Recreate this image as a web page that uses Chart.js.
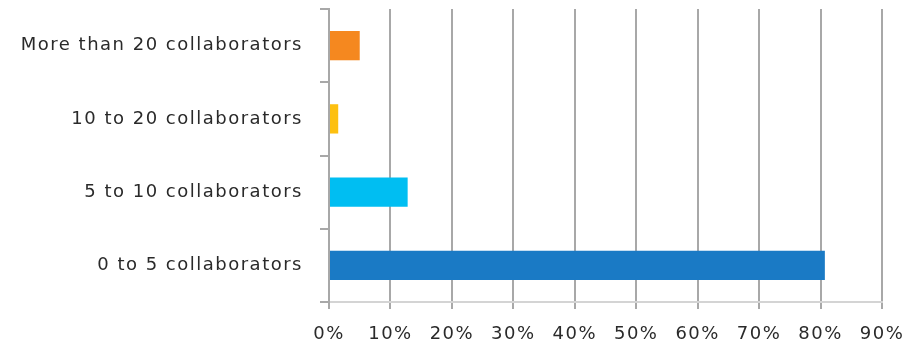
<!DOCTYPE html>
<html>
<head>
<meta charset="utf-8">
<script src="https://cdn.jsdelivr.net/npm/chart.js@4"></script>
<style>
  html, body { margin: 0; padding: 0; background: #fff; }
  #wrap { width: 903px; height: 347px; position: relative; }
</style>
</head>
<body>
<div id="wrap"><canvas id="teamChart"></canvas></div>
<script>
// team size breakdown, top row first
const categories = ['More than 20 collaborators', '10 to 20 collaborators', '5 to 10 collaborators', '0 to 5 collaborators'];
const shares = [5, 1.5, 12.8, 80.7];
const barColors = ['#f5881f', '#fdc010', '#00bef2', '#1a7ac5'];
const xTicks = [0, 10, 20, 30, 40, 50, 60, 70, 80, 90];

const textFont = { family: '"DejaVu Sans", sans-serif', size: 18 };
const gridGray = '#a8a8a8';

// spread the letters a bit, the original font is wide
const spacing = {
    id: 'spacing',
    beforeLayout(chart) { chart.ctx.letterSpacing = '1.5px'; },
    beforeDraw(chart) { chart.ctx.letterSpacing = '1.5px'; }
};

new Chart(document.getElementById('teamChart'), {
    type: 'bar',
    data: {
        labels: categories,
        datasets: [{
            data: shares,
            backgroundColor: barColors,
            borderWidth: 0,
            categoryPercentage: 1,
            barPercentage: 0.4
        }]
    },
    options: {
        indexAxis: 'y',
        responsive: true,
        maintainAspectRatio: false,
        animation: false,
        layout: { padding: { top: 9, right: 21, left: 0, bottom: 0 } },
        plugins: { legend: { display: false }, tooltip: { enabled: false } },
        scales: {
            x: {
                min: 0,
                max: 90,
                afterFit(scale) {
                    scale.height = 45;
                    scale.paddingLeft = 0;
                    scale.paddingRight = 0;
                },
                afterBuildTicks(scale) { scale.ticks = xTicks.map(v => ({ value: v })); },
                grid: { color: gridGray, lineWidth: 2, tickLength: 7, tickColor: gridGray },
                border: { display: true, color: '#d4d4d4', width: 2 },
                ticks: {
                    font: textFont,
                    color: '#2a2a2a',
                    padding: 15,
                    maxRotation: 0,
                    callback: v => v + '%'
                }
            },
            y: {
                afterFit(scale) {
                    scale.width = 329;
                    scale.paddingTop = 0;
                    scale.paddingBottom = 0;
                },
                grid: { offset: true, drawOnChartArea: false, color: gridGray, lineWidth: 2, tickLength: 9 },
                border: { display: true, color: gridGray, width: 2 },
                ticks: { font: textFont, color: '#2a2a2a', padding: 17 }
            }
        }
    },
    plugins: [spacing]
});
</script>
</body>
</html>
